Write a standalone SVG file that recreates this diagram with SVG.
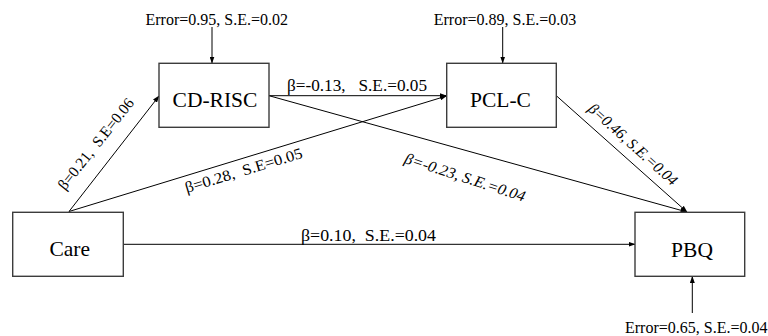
<svg xmlns="http://www.w3.org/2000/svg" width="768" height="336" viewBox="0 0 768 336">
<style>
.box{fill:#fff;stroke:#3c3c3c;stroke-width:1.4}
.lbl{font-family:"Liberation Serif","Times New Roman",serif;font-size:21.5px;fill:#000;text-anchor:middle}
.err{font-family:"Liberation Serif","Times New Roman",serif;font-size:16px;fill:#000;text-anchor:middle}
.coef{font-family:"Liberation Serif","Times New Roman",serif;font-size:17px;fill:#000}
.rot{font-family:"Liberation Serif","Times New Roman",serif;font-size:15.5px;fill:#000;text-anchor:middle}
.it{font-style:italic}
.ln{stroke:#000;stroke-width:1;fill:none;marker-end:url(#ah)}
</style>
<defs>
<marker id="ah" markerUnits="userSpaceOnUse" markerWidth="7" markerHeight="5" refX="6.5" refY="2.5" orient="auto">
<path d="M0,0 L7,2.5 L0,5 z" fill="#000"/>
</marker>
</defs>
<rect width="768" height="336" fill="#fff"/>
<g id="connectors">
<line class="ln" x1="212" y1="27" x2="212" y2="63"/>
<line class="ln" x1="502.7" y1="27" x2="502.7" y2="63"/>
<line class="ln" x1="692.3" y1="313" x2="692.3" y2="276.5"/>
<line class="ln" x1="269" y1="95.7" x2="446.5" y2="95.7"/>
<line class="ln" x1="69" y1="211.5" x2="159" y2="96"/>
<line class="ln" x1="69" y1="211.5" x2="446.5" y2="96"/>
<line class="ln" x1="269" y1="95.7" x2="687" y2="212"/>
<line class="ln" x1="556.3" y1="95.7" x2="687" y2="212"/>
<line class="ln" x1="123.3" y1="244.3" x2="635" y2="244.3"/>
<text class="coef" x="287" y="90.5" textLength="140" lengthAdjust="spacingAndGlyphs" xml:space="preserve">β=-0.13,   S.E.=0.05</text>
<text class="coef" x="301" y="240.5" textLength="135" lengthAdjust="spacingAndGlyphs" xml:space="preserve">β=0.10,  S.E.=0.04</text>
<text class="rot" transform="translate(99.9,147.1) rotate(-51.5)" textLength="112" lengthAdjust="spacingAndGlyphs" xml:space="preserve">β=0.21,  S.E=0.06</text>
<text class="rot" transform="translate(245.2,175.3) rotate(-16.9)" textLength="122" lengthAdjust="spacingAndGlyphs" xml:space="preserve">β=0.28,  S.E=0.05</text>
<text class="rot it" transform="translate(463.5,182.3) rotate(18)" textLength="126" lengthAdjust="spacingAndGlyphs">β=-0.23, S.E.=0.04</text>
<text class="rot it" transform="translate(629.6,148.2) rotate(42)" textLength="114" lengthAdjust="spacingAndGlyphs">β=0.46, S.E.=0.04</text>
</g>
<g id="err-cdrisc"><text class="err" x="216.7" y="24.5">Error=0.95, S.E.=0.02</text></g>
<g id="err-pclc"><text class="err" x="505" y="24.5">Error=0.89, S.E.=0.03</text></g>
<g id="err-pbq"><text class="err" x="696.2" y="333.3">Error=0.65, S.E.=0.04</text></g>
<g id="cdrisc"><rect class="box" x="159" y="63.3" width="110" height="64"/><text class="lbl" x="215" y="106.7">CD-RISC</text></g>
<g id="pclc"><rect class="box" x="446.7" y="63.3" width="109.6" height="64"/><text class="lbl" x="500.5" y="106.7">PCL-C</text></g>
<g id="care"><rect class="box" x="12.7" y="212.3" width="110.6" height="64"/><text class="lbl" x="69.7" y="256">Care</text></g>
<g id="pbq"><rect class="box" x="635" y="212.3" width="109.7" height="64"/><text class="lbl" x="692" y="256.7">PBQ</text></g>
</svg>
